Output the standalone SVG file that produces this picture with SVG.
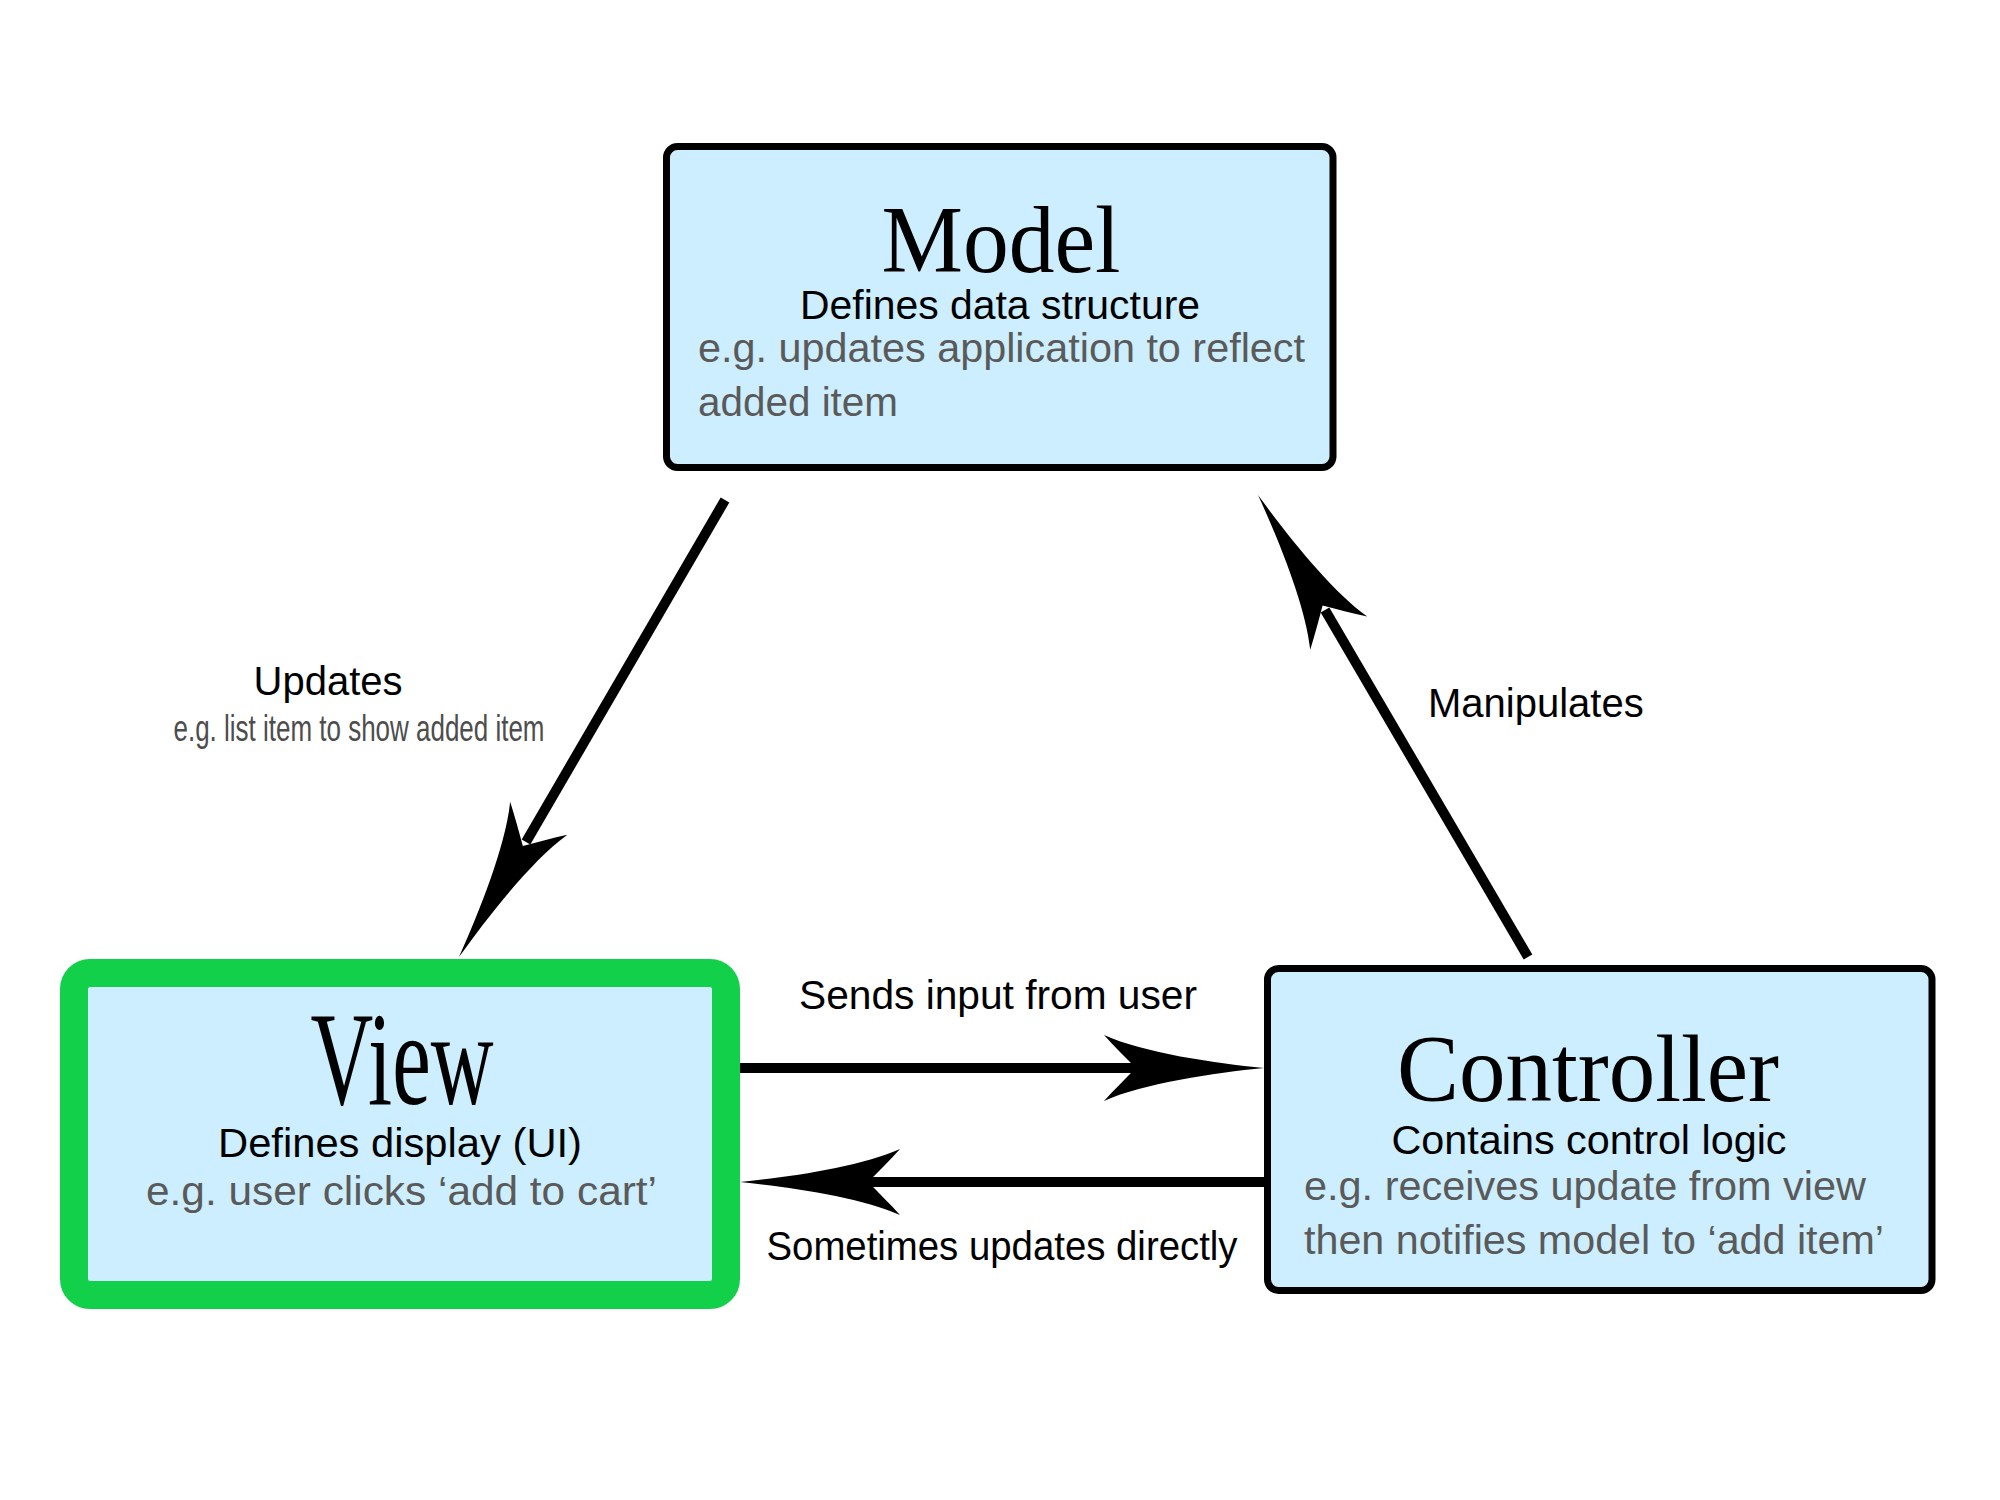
<svg xmlns="http://www.w3.org/2000/svg" xmlns:xlink="http://www.w3.org/1999/xlink" width="2000" height="1500" viewBox="0 0 2000 1500">
<style>
.box{fill:#cdeefe;stroke:#000;stroke-width:7}
.view{fill:#cdeefe;stroke:#12d04a;stroke-width:28}
.title{font-family:"Liberation Serif","Times New Roman",serif;fill:#000;text-anchor:middle}
.sub{font-family:"Liberation Sans",Arial,sans-serif;font-size:40px;fill:#000}
.eg{font-family:"Liberation Sans",Arial,sans-serif;font-size:40px;fill:#5a5a5a}
.mid{text-anchor:middle}
.line{stroke:#000;stroke-width:10;fill:none}
.head{fill:#000}
</style>
<defs>
<path id="ah" d="M0,0 C-50,-5 -120,-15 -160,-33 C-150,-22 -138,-10 -128,0 C-138,10 -150,22 -160,33 C-120,15 -50,5 0,0 Z"/>
</defs>
<rect width="2000" height="1500" fill="#fff"/>
<g id="connectors">
<line class="line" x1="725" y1="500" x2="526" y2="842"/>
<use class="head" xlink:href="#ah" href="#ah" transform="translate(459,957) rotate(119.9)"/>
<line class="line" x1="1528" y1="957" x2="1325" y2="610"/>
<use class="head" xlink:href="#ah" href="#ah" transform="translate(1258,495) rotate(-120.3)"/>
<line class="line" x1="740" y1="1068" x2="1140" y2="1068"/>
<use class="head" xlink:href="#ah" href="#ah" transform="translate(1264,1068)"/>
<line class="line" x1="1264" y1="1182" x2="866" y2="1182"/>
<use class="head" xlink:href="#ah" href="#ah" transform="translate(740,1182) rotate(180)"/>
<text class="sub mid" x="328" y="695">Updates</text>
<text class="eg mid" x="359" y="741" fill="#4d4d4d" textLength="371" lengthAdjust="spacingAndGlyphs" style="font-size:36px;fill:#4d4d4d">e.g. list item to show added item</text>
<text class="sub" x="1428" y="717">Manipulates</text>
<text class="sub mid" x="998" y="1009" textLength="398" lengthAdjust="spacingAndGlyphs">Sends input from user</text>
<text class="sub mid" x="1002" y="1260" textLength="471" lengthAdjust="spacingAndGlyphs">Sometimes updates directly</text>
</g>
<g id="model">
<rect class="box" x="666.5" y="146.5" width="666.5" height="321" rx="11"/>
<text class="title" x="1001" y="272" font-size="95" textLength="239" lengthAdjust="spacingAndGlyphs">Model</text>
<text class="sub mid" x="1000" y="319" textLength="400" lengthAdjust="spacingAndGlyphs">Defines data structure</text>
<text class="eg" x="698" y="362" textLength="607" lengthAdjust="spacingAndGlyphs">e.g. updates application to reflect</text>
<text class="eg" x="698" y="416" textLength="200" lengthAdjust="spacingAndGlyphs">added item</text>
</g>
<g id="view">
<rect class="view" x="74" y="973" width="652" height="322" rx="16"/>
<text class="title" x="402" y="1104" font-size="133" textLength="183" lengthAdjust="spacingAndGlyphs">View</text>
<text class="sub mid" x="400" y="1157" textLength="364" lengthAdjust="spacingAndGlyphs">Defines display (UI)</text>
<text class="eg" x="146" y="1205" textLength="511" lengthAdjust="spacingAndGlyphs">e.g. user clicks ‘add to cart’</text>
</g>
<g id="controller">
<rect class="box" x="1267.5" y="968.5" width="664.5" height="322" rx="11"/>
<text class="title" x="1588" y="1101" font-size="95" textLength="382" lengthAdjust="spacingAndGlyphs">Controller</text>
<text class="sub mid" x="1589" y="1154" textLength="395" lengthAdjust="spacingAndGlyphs">Contains control logic</text>
<text class="eg" x="1304" y="1200" textLength="562" lengthAdjust="spacingAndGlyphs">e.g. receives update from view</text>
<text class="eg" x="1304" y="1254" textLength="580" lengthAdjust="spacingAndGlyphs">then notifies model to ‘add item’</text>
</g>
</svg>
